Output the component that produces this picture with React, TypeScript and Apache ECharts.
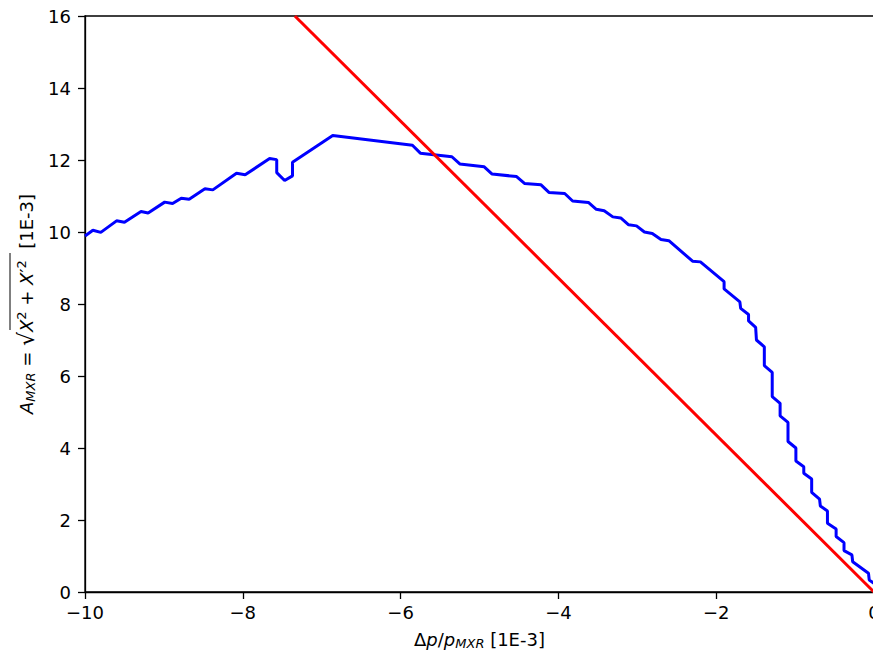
import React, { useEffect, useRef } from "react";
import * as echarts from "echarts";

const blueX = [
  -10, -9.9, -9.8, -9.6, -9.5, -9.29, -9.2, -8.99, -8.89, -8.78, -8.68, -8.48, -8.38,
  -8.08, -7.97, -7.66, -7.57, -7.57, -7.47, -7.37, -7.37, -6.86, -5.85, -5.75, -5.35,
  -5.25, -4.94, -4.84, -4.53, -4.43, -4.22, -4.12, -3.92, -3.82, -3.62, -3.52, -3.42,
  -3.31, -3.21, -3.11, -3.01, -2.91, -2.81, -2.7, -2.6, -2.3, -2.2, -1.9, -1.9, -1.7,
  -1.69, -1.59, -1.59, -1.5, -1.49, -1.39, -1.39, -1.29, -1.29, -1.19, -1.19, -1.09,
  -1.09, -0.99, -0.99, -0.89, -0.89, -0.79, -0.79, -0.69, -0.68, -0.59, -0.59, -0.48,
  -0.48, -0.38, -0.38, -0.28, -0.27, -0.07, -0.06, 0,
];
const blueY = [
  9.89, 10.05, 9.99, 10.31, 10.27, 10.57, 10.53, 10.83, 10.79, 10.94, 10.91, 11.2, 11.17,
  11.63, 11.59, 12.04, 12.01, 11.65, 11.43, 11.56, 11.94, 12.68, 12.41, 12.19, 12.09,
  11.89, 11.81, 11.61, 11.54, 11.35, 11.31, 11.1, 11.07, 10.86, 10.82, 10.63, 10.59,
  10.42, 10.39, 10.2, 10.17, 10.0, 9.96, 9.79, 9.76, 9.19, 9.17, 8.62, 8.42, 8.06,
  7.88, 7.71, 7.53, 7.35, 7.0, 6.81, 6.29, 6.1, 5.43, 5.24, 4.89, 4.71,
  4.18, 4.0, 3.64, 3.48, 3.3, 3.14, 2.77, 2.58, 2.39, 2.25, 1.91, 1.75,
  1.54, 1.37, 1.15, 1.03, 0.84, 0.52, 0.33, 0.24,
];
const redX = [-7.34, 0];
const redY = [16, 0];
const xTicks = [-10, -8, -6, -4, -2, 0];
const yTicks = [0, 2, 4, 6, 8, 10, 12, 14, 16];

const FONT = "DejaVu Sans";

const rich = {
  n: { fontSize: 18, fontFamily: FONT, color: "#000", lineHeight: 22, verticalAlign: "middle" },
  i: { fontSize: 18, fontFamily: FONT, fontStyle: "italic", color: "#000", lineHeight: 22, verticalAlign: "middle" },
  rt: { fontSize: 22, fontFamily: FONT, color: "#000", lineHeight: 22, verticalAlign: "middle" },
  sub: { fontSize: 13, fontFamily: FONT, fontStyle: "italic", color: "#000", lineHeight: 14, verticalAlign: "bottom" },
  sup: { fontSize: 13, fontFamily: FONT, color: "#000", lineHeight: 12, verticalAlign: "top" },
};

export default function App() {
  const ref = useRef<HTMLDivElement>(null);
  useEffect(() => {
    if (!ref.current) return;
    const chart = echarts.init(ref.current, undefined, { renderer: "svg" });
    const fmt = (v: number) => (v < 0 ? "\u2212" + Math.abs(v) : String(v));
    chart.setOption({
      animation: false,
      textStyle: { fontFamily: FONT },
      grid: {
        left: 85,
        right: 6,
        top: 16,
        bottom: 64,
        containLabel: false,
        outerBoundsMode: "none",
        show: true,
        borderColor: "#000",
        borderWidth: 1.3,
        backgroundColor: "transparent",
      },
      xAxis: {
        type: "value",
        min: xTicks[0],
        max: xTicks[xTicks.length - 1],
        interval: 2,
        splitLine: { show: false },
        axisLine: { show: true, onZero: false, lineStyle: { color: "#000", width: 1.3 } },
        axisTick: { show: true, inside: false, length: 7, lineStyle: { color: "#000", width: 1.3 } },
        axisLabel: { color: "#000", fontSize: 18, fontFamily: FONT, margin: 11, formatter: fmt },
        name: "{n|\u0394}{i|p}{n|/}{i|p}{sub|MXR}{n| [1E-3]}",
        nameLocation: "middle",
        nameGap: 36,
        nameTextStyle: { color: "#000", fontSize: 18, fontFamily: FONT, rich },
      },
      yAxis: {
        type: "value",
        min: yTicks[0],
        max: yTicks[yTicks.length - 1],
        interval: 2,
        splitLine: { show: false },
        axisLine: { show: true, onZero: false, lineStyle: { color: "#000", width: 1.3 } },
        axisTick: { show: true, inside: false, length: 7, lineStyle: { color: "#000", width: 1.3 } },
        axisLabel: { color: "#000", fontSize: 18, fontFamily: FONT, margin: 14, formatter: fmt },
        name: "{i|A}{sub|MXR}{n| = }{rt|\u221A}{i|X}{sup|2}{n| + }{i|X}{n|\u2032}{sup|2}{n|  [1E-3]}",
        nameLocation: "middle",
        nameRotate: 90,
        nameGap: 48,
        nameTextStyle: { color: "#000", fontSize: 18, fontFamily: FONT, rich },
      },
      graphic: [
        {
          type: "line",
          shape: { x1: 10, y1: 253, x2: 10, y2: 330 },
          style: { stroke: "#000", lineWidth: 1 },
        },
      ],
      series: [
        {
          type: "line",
          data: blueX.map((x, i) => [x, blueY[i]]),
          showSymbol: false,
          symbol: "none",
          lineStyle: { color: "#0000ff", width: 3 },
          clip: true,
          z: 2,
        },
        {
          type: "line",
          data: redX.map((x, i) => [x, redY[i]]),
          showSymbol: false,
          symbol: "none",
          lineStyle: { color: "#ff0000", width: 3 },
          clip: true,
          z: 3,
        },
      ],
    });
    return () => chart.dispose();
  }, []);
  return (
    <div style={{ position: "fixed", left: 0, top: 0, width: 873, height: 656, overflow: "hidden", background: "#fff" }}>
      <div ref={ref} style={{ width: 880, height: 656 }} />
    </div>
  );
}
